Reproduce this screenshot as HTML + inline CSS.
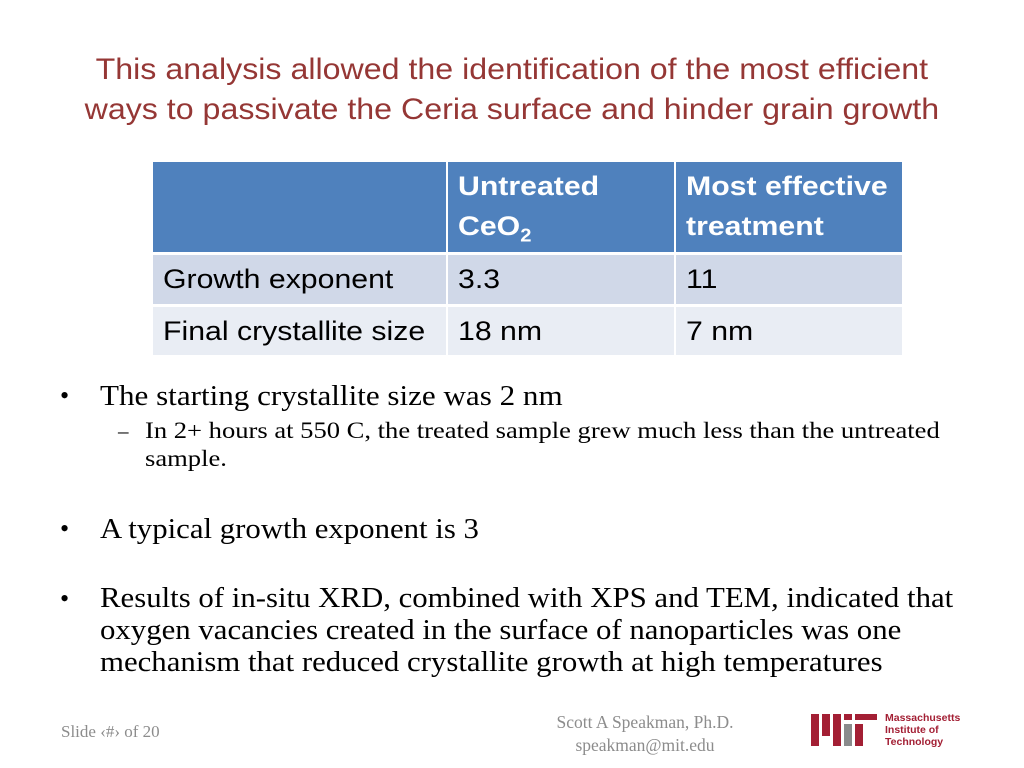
<!DOCTYPE html>
<html><head><meta charset="utf-8"><style>
body{margin:0;width:1024px;height:768px;background:#fff;position:relative;overflow:hidden;font-family:"Liberation Sans",sans-serif}
div{position:absolute}
.t{color:#953735;font-size:30px;white-space:nowrap;left:0;width:1024px;text-align:center;transform:scaleX(1.072);transform-origin:514px 0}
.cell{box-sizing:border-box;padding:6px 10px;font-size:27px;color:#000;white-space:nowrap;overflow:hidden}
.cell span{display:inline-block;transform:scaleX(1.12);transform-origin:0 0}
.h{background:#4f81bd;color:#fff;font-weight:bold;line-height:40px;padding-top:4px}
.r1{background:#d0d8e8;line-height:38px}
.r2{background:#e9edf4;line-height:38px}
.s{font-family:"Liberation Serif",serif;color:#000;white-space:nowrap}
.b{font-size:28px;transform:scaleX(1.1);transform-origin:0 0}
</style></head><body>
<div class="t" style="top:53px">This analysis allowed the identification of the most efficient</div>
<div class="t" style="top:93px">ways to passivate the Ceria surface and hinder grain growth</div>

<div style="left:0;top:0">
<div class="cell h" style="left:153px;top:162px;width:293px;height:90px"></div>
<div class="cell h" style="left:448px;top:162px;width:226px;height:90px"><span>Untreated<br>CeO<sub style="font-size:18px">2</sub></span></div>
<div class="cell h" style="left:676px;top:162px;width:226px;height:90px"><span>Most effective<br>treatment</span></div>
<div class="cell r1" style="left:153px;top:255px;width:293px;height:49px;padding-top:5px"><span>Growth exponent</span></div>
<div class="cell r1" style="left:448px;top:255px;width:226px;height:49px;padding-top:5px"><span>3.3</span></div>
<div class="cell r1" style="left:676px;top:255px;width:226px;height:49px;padding-top:5px"><span>11</span></div>
<div class="cell r2" style="left:153px;top:307px;width:293px;height:48px;padding-top:5px"><span>Final crystallite size</span></div>
<div class="cell r2" style="left:448px;top:307px;width:226px;height:48px;padding-top:5px"><span>18 nm</span></div>
<div class="cell r2" style="left:676px;top:307px;width:226px;height:48px;padding-top:5px"><span>7 nm</span></div>
</div>

<div class="s" style="left:60px;top:381px;font-size:26px">•<span class="b" style="position:absolute;left:40px;transform:scaleX(1.11)">The starting crystallite size was 2 nm</span></div>
<div class="s" style="left:118px;top:417px;font-size:21px;line-height:28px">–<span style="position:absolute;left:27px;font-size:23px;transform:scaleX(1.155);transform-origin:0 0">In 2+ hours at 550 C, the treated sample grew much less than the untreated<br>sample.</span></div>
<div class="s" style="left:60px;top:514px;font-size:26px">•<span class="b" style="position:absolute;left:40px">A typical growth exponent is 3</span></div>
<div class="s" style="left:60px;top:583px;font-size:26px;line-height:32px">•<span class="b" style="position:absolute;left:40px;line-height:32px">Results of in-situ XRD, combined with XPS and TEM, indicated that<br>oxygen vacancies created in the surface of nanoparticles was one<br>mechanism that reduced crystallite growth at high temperatures</span></div>

<div class="s" style="left:61px;top:722px;font-size:17px;color:#8c8c8c">Slide ‹#› of 20</div>
<div class="s" style="left:520px;top:711px;width:250px;text-align:center;font-size:17.5px;line-height:23px;color:#8c8c8c">Scott A Speakman, Ph.D.<br>speakman@mit.edu</div>

<div style="left:810px;top:712px;width:150px;height:36px">
<svg width="70" height="36" style="position:absolute;left:0;top:0">
<rect x="1" y="2" width="8" height="32" fill="#a31f34"/>
<rect x="12" y="2" width="8" height="22" fill="#a31f34"/>
<rect x="23" y="2" width="8" height="32" fill="#a31f34"/>
<rect x="34" y="12" width="8" height="22" fill="#8a8b8c"/>
<rect x="34" y="2" width="8" height="6" fill="#a31f34"/>
<rect x="45" y="2" width="22" height="6" fill="#a31f34"/>
<rect x="45" y="12" width="8" height="22" fill="#a31f34"/>
</svg>
<div style="left:75px;top:0;font-size:10.5px;font-weight:bold;color:#a31f34;line-height:12px;white-space:nowrap">Massachusetts<br>Institute of<br>Technology</div>
</div>
</body></html>
